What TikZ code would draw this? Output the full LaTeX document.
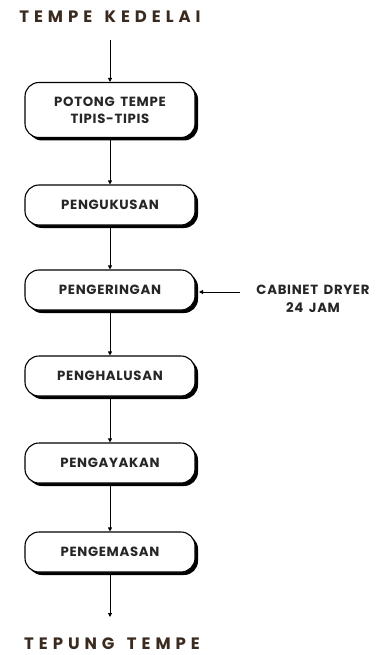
\documentclass[tikz,border=0pt]{standalone}
\usepackage{fontspec}
\setmainfont{Poppins}
\newfontfamily\boxfont[LetterSpace=5,WordSpace=1.6]{Poppins}
\newfontfamily\titlefont[LetterSpace=30]{Poppins}
\usetikzlibrary{arrows.meta}
\definecolor{titlebrown}{HTML}{3A2A1F}
\begin{document}
\begin{tikzpicture}[x=1pt,y=-1pt,
  stepbox/.style={draw=black, line width=1.1pt, fill=white, rounded corners=14pt,
    minimum width=170pt, minimum height=40pt, align=center, inner sep=0pt,
    font=\boxfont\bfseries\fontsize{13.3}{17}\selectfont, text=black!85},
  titletext/.style={font=\titlefont\bfseries\fontsize{16.5}{18}\selectfont, text=titlebrown, inner sep=0pt},
  sidetext/.style={font=\boxfont\bfseries\fontsize{13.3}{18}\selectfont, text=black!85, align=center, inner sep=0pt},
  flow/.style={-{Triangle[length=4pt,width=4pt]}, line width=0.9pt}]
\useasboundingbox (0,0) rectangle (379,655);
\node[titletext] (top) at (110,17) {TEMPE\hspace{4pt} KEDELAI};
\coordinate (topa) at (110,40);
\foreach \n/\y/\h in {b1/110/55, b2/205/40, b3/290/40, b4/376/40, b5/463/40, b6/552/40}{
  \fill[black, rounded corners=14pt] (110-85+3,\y-\h/2+3) rectangle (110+85+3,\y+\h/2+3);
}
\node[stepbox, minimum height=55pt] (b1) at (110,110) {POTONG TEMPE\\TIPIS-TIPIS};
\node[stepbox] (b2) at (110,205) {PENGUKUSAN};
\node[stepbox] (b3) at (110,290) {PENGERINGAN};
\node[stepbox] (b4) at (110,376) {PENGHALUSAN};
\node[stepbox] (b5) at (110,463) {PENGAYAKAN};
\node[stepbox] (b6) at (110,552) {PENGEMASAN};
\coordinate (enda) at (110,617);
\node[titletext] (bot) at (112,644) {TEPUNG\hspace{4pt} TEMPE};
\node[sidetext] (side) at (313,299) {CABINET DRYER\\24 JAM};
\coordinate (sidea) at (240,292);
\draw[flow] (topa) -- (b1.north);
\draw[flow] (b1.south) -- (b2.north);
\draw[flow] (b2.south) -- (b3.north);
\draw[flow] (b3.south) -- (b4.north);
\draw[flow] (b4.south) -- (b5.north);
\draw[flow] (b5.south) -- (b6.north);
\draw[flow] (b6.south) -- (enda);
\draw[flow] (sidea) -- (199,292);
\end{tikzpicture}
\end{document}
